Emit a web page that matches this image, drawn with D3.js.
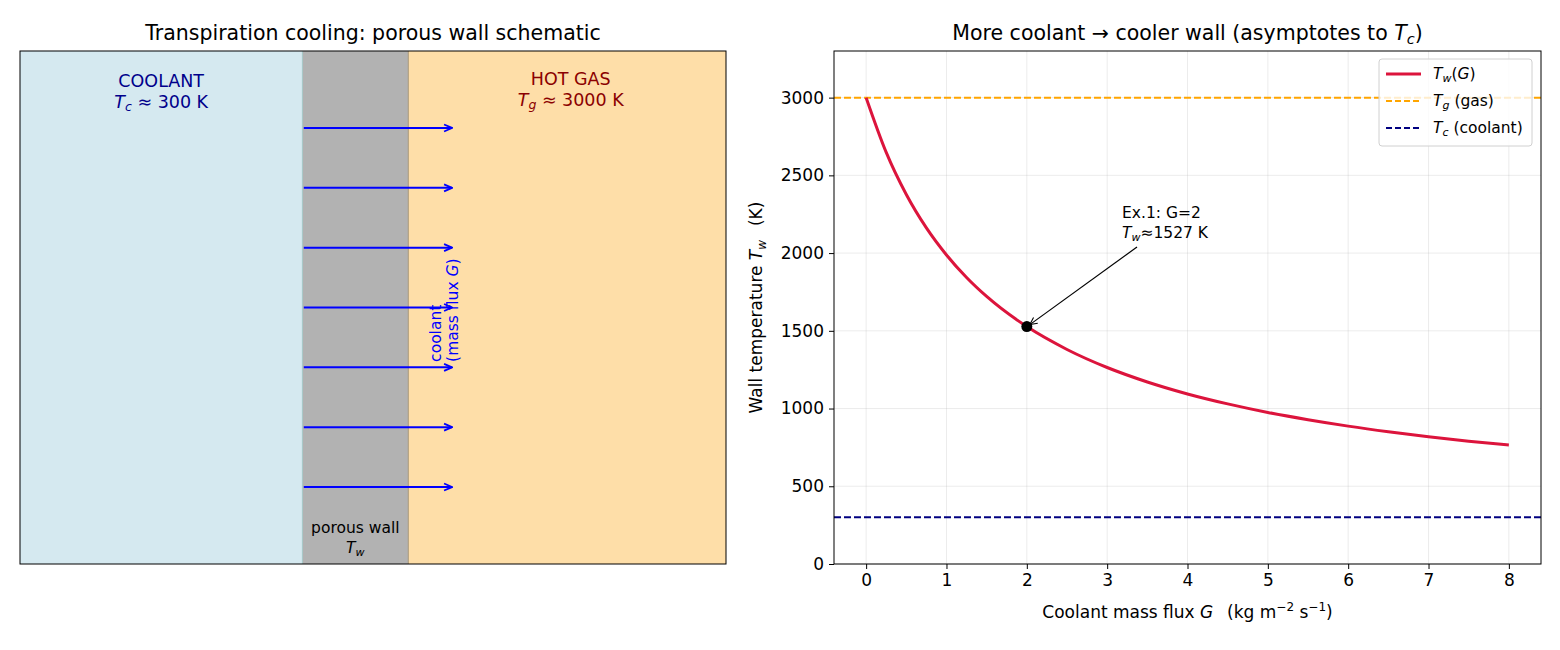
<!DOCTYPE html>
<html>
<head>
<meta charset="utf-8">
<script src="https://cdn.jsdelivr.net/npm/d3@7"></script>
<style>
  body { margin: 0; background: #fff; }
  svg { font-family: "DejaVu Sans", sans-serif; }
</style>
</head>
<body>
<svg id="fig" width="1560" height="650"></svg>
<script>
// wall temperature
const fluxG = [0, 0.25, 0.5, 0.75, 1, 1.25, 1.5, 2, 2.5, 3, 3.5, 4, 4.5, 5, 5.5, 6, 6.5, 7, 7.5, 8];
const wallT = [3000, 2648, 2377, 2162, 1988, 1843, 1721, 1527, 1380, 1264, 1171, 1094, 1030, 975, 928, 887, 851, 819, 790, 765];
const gasT = 3000;
const coolT = 300;
const exG = 2;
const exT = 1527;
const xTicks = [0, 1, 2, 3, 4, 5, 6, 7, 8];
const yTicks = [0, 500, 1000, 1500, 2000, 2500, 3000];
// schematic: regions across the wall (fraction of width) and arrow heights
const zones = [
  { name: "coolant", x0: 0, x1: 0.4, color: "#d5e9f0" },
  { name: "wall", x0: 0.4, x1: 0.55, color: "#b2b2b2" },
  { name: "gas", x0: 0.55, x1: 1, color: "#fedea8" }
];
const arrowY = [0.15, 0.2667, 0.3833, 0.5, 0.6167, 0.7333, 0.85];

const svg = d3.select("#fig");

svg.append("defs").append("marker")
  .attr("id", "blueHead")
  .attr("viewBox", "0 0 10 10")
  .attr("refX", 9).attr("refY", 5)
  .attr("markerWidth", 10).attr("markerHeight", 10)
  .attr("markerUnits", "userSpaceOnUse")
  .attr("orient", "auto")
  .append("path")
  .attr("d", "M1,1.5 L9,5 L1,8.5")
  .attr("fill", "none").attr("stroke", "blue").attr("stroke-width", 1.8);

svg.select("defs").append("marker")
  .attr("id", "blackHead")
  .attr("viewBox", "0 0 10 10")
  .attr("refX", 9).attr("refY", 5)
  .attr("markerWidth", 9).attr("markerHeight", 9)
  .attr("markerUnits", "userSpaceOnUse")
  .attr("orient", "auto")
  .append("path")
  .attr("d", "M1,1 L9,5 L1,9")
  .attr("fill", "none").attr("stroke", "black").attr("stroke-width", 1.2);

// ---------- left: schematic ----------
const L = { left: 20, top: 51, w: 706, h: 513 };
const sx = d3.scaleLinear().domain([0, 1]).range([L.left, L.left + L.w]);
const sy = d3.scaleLinear().domain([0, 1]).range([L.top + L.h, L.top]);

const left = svg.append("g");
left.selectAll("rect.zone")
  .data(zones)
  .join("rect")
  .attr("class", "zone")
  .attr("x", d => sx(d.x0)).attr("y", L.top)
  .attr("width", d => sx(d.x1) - sx(d.x0)).attr("height", L.h)
  .attr("fill", d => d.color);

// faint edges of the wall
left.append("line")
  .attr("x1", sx(0.4)).attr("x2", sx(0.4)).attr("y1", L.top).attr("y2", L.top + L.h)
  .attr("stroke", "#a6c8c8").attr("stroke-width", 1);
left.append("line")
  .attr("x1", sx(0.55)).attr("x2", sx(0.55)).attr("y1", L.top).attr("y2", L.top + L.h)
  .attr("stroke", "#a89878").attr("stroke-width", 1);

left.selectAll("line.flow")
  .data(arrowY)
  .join("line")
  .attr("class", "flow")
  .attr("x1", sx(0.402)).attr("x2", sx(0.612))
  .attr("y1", d => sy(d)).attr("y2", d => sy(d))
  .attr("stroke", "blue").attr("stroke-width", 2)
  .attr("marker-end", "url(#blueHead)");

left.append("rect")
  .attr("x", L.left).attr("y", L.top).attr("width", L.w).attr("height", L.h)
  .attr("fill", "none").attr("stroke", "black").attr("stroke-width", 1);

function label(g, x, y, color, size) {
  return g.append("text").attr("x", x).attr("y", y)
    .attr("text-anchor", "middle").attr("fill", color).attr("font-size", size);
}

label(left, sx(0.2), 87, "darkblue", 17.5).text("COOLANT");
let t = label(left, sx(0.2), 108, "darkblue", 17.5);
t.append("tspan").attr("font-style", "italic").text("T");
t.append("tspan").attr("font-style", "italic").attr("font-size", 12.5).attr("dy", 3).text("c");
t.append("tspan").attr("dy", -3).text(" \u2248 300 K");

label(left, sx(0.78), 85, "darkred", 17.5).text("HOT GAS");
t = label(left, sx(0.78), 106, "darkred", 17.5);
t.append("tspan").attr("font-style", "italic").text("T");
t.append("tspan").attr("font-style", "italic").attr("font-size", 12.5).attr("dy", 3).text("g");
t.append("tspan").attr("dy", -3).text(" \u2248 3000 K");

label(left, sx(0.475), 533, "black", 15.5).text("porous wall");
t = label(left, sx(0.475), 553, "black", 15.5);
t.append("tspan").attr("font-style", "italic").text("T");
t.append("tspan").attr("font-style", "italic").attr("font-size", 11).attr("dy", 3).text("w");

const vert = left.append("g").attr("transform", `translate(${sx(0.6)},${sy(0.394)}) rotate(-90)`);
vert.append("text").attr("x", 0).attr("y", -3).attr("text-anchor", "start")
  .attr("fill", "blue").attr("font-size", 15.5).text("coolant");
t = vert.append("text").attr("x", 0).attr("y", 14).attr("text-anchor", "start")
  .attr("fill", "blue").attr("font-size", 15.5);
t.append("tspan").text("(mass flux ");
t.append("tspan").attr("font-style", "italic").text("G");
t.append("tspan").text(")");

svg.append("text").attr("x", sx(0.5)).attr("y", 40).attr("text-anchor", "middle")
  .attr("font-size", 20.5).text("Transpiration cooling: porous wall schematic");

// ---------- right: Tw(G) ----------
const R = { left: 834, top: 51, w: 707, h: 513 };
const x = d3.scaleLinear().domain([-0.4, 8.4]).range([R.left, R.left + R.w]);
const y = d3.scaleLinear().domain([0, 3300]).range([R.top + R.h, R.top]);

const right = svg.append("g");
right.append("defs").append("clipPath").attr("id", "clipR")
  .append("rect").attr("x", R.left).attr("y", R.top).attr("width", R.w).attr("height", R.h);

// grid
right.selectAll("line.gx").data(xTicks).join("line").attr("class", "gx")
  .attr("x1", d => x(d)).attr("x2", d => x(d)).attr("y1", R.top).attr("y2", R.top + R.h)
  .attr("stroke", "#b0b0b0").attr("stroke-opacity", 0.3).attr("stroke-width", 0.8);
right.selectAll("line.gy").data(yTicks).join("line").attr("class", "gy")
  .attr("x1", R.left).attr("x2", R.left + R.w).attr("y1", d => y(d)).attr("y2", d => y(d))
  .attr("stroke", "#b0b0b0").attr("stroke-opacity", 0.3).attr("stroke-width", 0.8);

const plot = right.append("g").attr("clip-path", "url(#clipR)");
plot.append("line")
  .attr("x1", R.left).attr("x2", R.left + R.w).attr("y1", y(gasT)).attr("y2", y(gasT))
  .attr("stroke", "orange").attr("stroke-width", 2).attr("stroke-dasharray", "7,3");
plot.append("line")
  .attr("x1", R.left).attr("x2", R.left + R.w).attr("y1", y(coolT)).attr("y2", y(coolT))
  .attr("stroke", "navy").attr("stroke-width", 2).attr("stroke-dasharray", "7,3");

const pts = fluxG.map((g, i) => [g, wallT[i]]);
plot.append("path")
  .datum(pts)
  .attr("fill", "none").attr("stroke", "crimson").attr("stroke-width", 3)
  .attr("d", d3.line().x(d => x(d[0])).y(d => y(d[1])).curve(d3.curveMonotoneX));

plot.append("circle").attr("cx", x(exG)).attr("cy", y(exT)).attr("r", 5.5).attr("fill", "black");

// annotation
right.append("line")
  .attr("x1", 1137).attr("x2", x(exG) + 3).attr("y1", 247).attr("y2", y(exT) - 2)
  .attr("stroke", "black").attr("stroke-width", 1.2).attr("marker-end", "url(#blackHead)");
right.append("text").attr("x", 1122).attr("y", 218).attr("font-size", 15.5).text("Ex.1: G=2");
t = right.append("text").attr("x", 1122).attr("y", 238).attr("font-size", 15.5);
t.append("tspan").attr("font-style", "italic").text("T");
t.append("tspan").attr("font-style", "italic").attr("font-size", 11).attr("dy", 3).text("w");
t.append("tspan").attr("dy", -3).text("\u22481527 K");

// axes
right.append("g").attr("transform", `translate(0,${R.top + R.h})`)
  .call(d3.axisBottom(x).tickValues(xTicks).tickSize(5).tickPadding(5).tickFormat(d3.format("d")))
  .call(g => g.select(".domain").remove())
  .call(g => g.selectAll("text").attr("font-size", 17).attr("font-family", "DejaVu Sans").attr("fill", "black"));
right.append("g").attr("transform", `translate(${R.left},0)`)
  .call(d3.axisLeft(y).tickValues(yTicks).tickSize(5).tickPadding(5).tickFormat(d3.format("d")))
  .call(g => g.select(".domain").remove())
  .call(g => g.selectAll("text").attr("font-size", 17).attr("font-family", "DejaVu Sans").attr("fill", "black"));

right.append("rect")
  .attr("x", R.left).attr("y", R.top).attr("width", R.w).attr("height", R.h)
  .attr("fill", "none").attr("stroke", "black").attr("stroke-width", 1);

t = right.append("text").attr("x", x(4)).attr("y", 618).attr("text-anchor", "middle").attr("font-size", 17);
t.append("tspan").text("Coolant mass flux ");
t.append("tspan").attr("font-style", "italic").text("G");
t.append("tspan").text("\u2002 (kg m");
t.append("tspan").attr("font-size", 12).attr("dy", -7).text("\u22122");
t.append("tspan").attr("dy", 7).text(" s");
t.append("tspan").attr("font-size", 12).attr("dy", -7).text("\u22121");
t.append("tspan").attr("dy", 7).text(")");

t = right.append("text").attr("transform", `translate(762,${y(1650)}) rotate(-90)`)
  .attr("text-anchor", "middle").attr("font-size", 17);
t.append("tspan").text("Wall temperature ");
t.append("tspan").attr("font-style", "italic").text("T");
t.append("tspan").attr("font-style", "italic").attr("font-size", 12).attr("dy", 4).text("w");
t.append("tspan").attr("dy", -4).text("\u2002 (K)");

t = right.append("text").attr("x", R.left + R.w / 2).attr("y", 40).attr("text-anchor", "middle").attr("font-size", 20.5);
t.append("tspan").text("More coolant \u2192 cooler wall (asymptotes to ");
t.append("tspan").attr("font-style", "italic").text("T");
t.append("tspan").attr("font-style", "italic").attr("font-size", 14.5).attr("dy", 4).text("c");
t.append("tspan").attr("dy", -4).text(")");

// legend
const leg = right.append("g");
leg.append("rect").attr("x", 1379).attr("y", 59).attr("width", 153).attr("height", 87)
  .attr("rx", 3).attr("fill", "white").attr("fill-opacity", 0.8).attr("stroke", "#d0d0d0");
const legItems = [
  { color: "crimson", dash: null, w: 3, sym: "w", rest: "(G)" },
  { color: "orange", dash: "6,3", w: 2, sym: "g", rest: " (gas)" },
  { color: "navy", dash: "6,3", w: 2, sym: "c", rest: " (coolant)" }
];
legItems.forEach((d, i) => {
  const yy = 74 + i * 27;
  leg.append("line").attr("x1", 1386).attr("x2", 1421).attr("y1", yy).attr("y2", yy)
    .attr("stroke", d.color).attr("stroke-width", d.w).attr("stroke-dasharray", d.dash);
  const tt = leg.append("text").attr("x", 1433).attr("y", yy + 5).attr("font-size", 15.5);
  tt.append("tspan").attr("font-style", "italic").text("T");
  tt.append("tspan").attr("font-style", "italic").attr("font-size", 11).attr("dy", 3).text(d.sym);
  const r = tt.append("tspan").attr("dy", -3);
  if (i === 0) {
    r.text("(");
    tt.append("tspan").attr("font-style", "italic").text("G");
    tt.append("tspan").text(")");
  } else {
    r.text(d.rest);
  }
});
</script>
</body>
</html>
